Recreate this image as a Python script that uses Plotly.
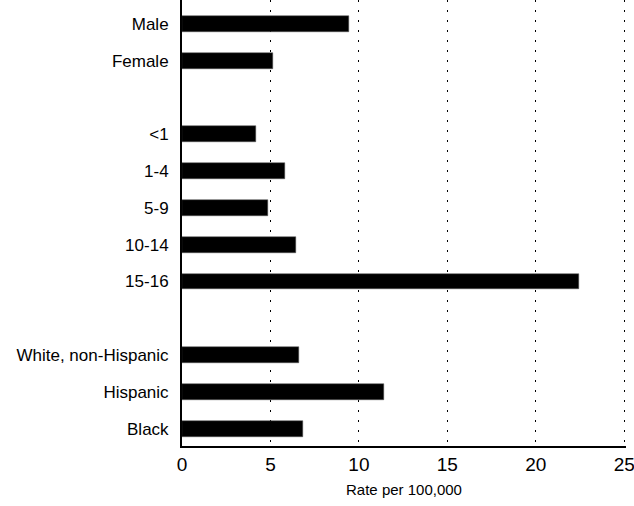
import plotly.graph_objects as go

categories = ["Male", "Female", "", "<1", "1-4", "5-9", "10-14", "15-16", "",
              "White, non-Hispanic", "Hispanic", "Black"]
rates = [9.44, 5.14, None, 4.16, 5.85, 4.85, 6.45, 22.45, None, 6.64, 11.43, 6.85]
x_ticks = [0, 5, 10, 15, 20, 25]

slots = list(range(len(categories)))
bar_y = [s for s, r in zip(slots, rates) if r is not None]
bar_x = [r for r in rates if r is not None]

fig = go.Figure(go.Bar(
    x=bar_x, y=bar_y, orientation="h", width=0.43,
    marker=dict(color="black", line=dict(color="#555", width=0.5)),
))

font_family = "Liberation Sans, Arial"
fig.update_layout(
    width=634, height=506,
    margin=dict(l=182, r=8, t=0, b=60, autoexpand=False),
    plot_bgcolor="white", paper_bgcolor="white",
    showlegend=False, bargap=0,
    font=dict(family=font_family, color="black"),
    xaxis=dict(
        range=[0, 25.1], tickvals=x_ticks, ticks="", automargin=False,
        showline=True, linecolor="black", linewidth=2,
        showgrid=True, gridcolor="black", gridwidth=1, griddash="2px,8px",
        zeroline=False, tickfont=dict(size=19), ticklabeloverflow="allow",
        title=dict(text="Rate per 100,000", font=dict(size=15), standoff=11),
    ),
    yaxis=dict(
        range=[11.47, -0.65], tickvals=slots, ticktext=categories, ticks="",
        showline=True, linecolor="black", linewidth=2, automargin=False,
        showgrid=False, zeroline=False, tickfont=dict(size=17),
        ticklabelstandoff=8,
    ),
)

fig.write_html("out.html", config={"displayModeBar": False},
               post_script="document.body.style.margin='0';")
